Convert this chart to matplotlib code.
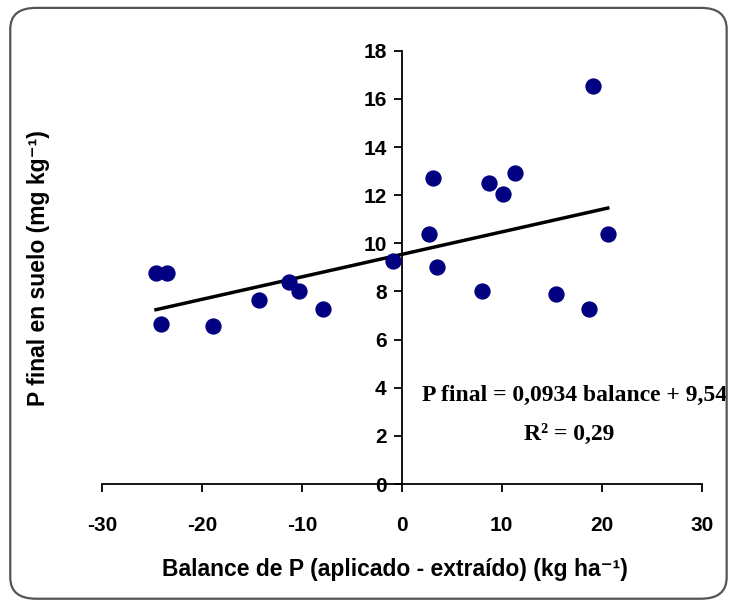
import matplotlib
matplotlib.use('Agg')
import matplotlib.pyplot as plt
from matplotlib.patches import FancyBboxPatch
import numpy as np

# datos
balance = [-24.6, -23.5, -24.1, -18.9, -14.3, -11.3, -10.3, -7.9, -0.9,
           2.7, 3.1, 3.5, 8.0, 8.7, 10.1, 11.3, 15.4, 18.7, 19.1, 20.6]
p_final = [8.75, 8.75, 6.65, 6.55, 7.65, 8.4, 8.0, 7.25, 9.25,
           10.4, 12.7, 9.0, 8.0, 12.5, 12.05, 12.9, 7.9, 7.25, 16.55, 10.4]
pendiente = 0.0934
intercepto = 9.54
x_ticks = [-30, -20, -10, 0, 10, 20, 30]
y_ticks = [0, 2, 4, 6, 8, 10, 12, 14, 16, 18]

plt.rcParams['axes.unicode_minus'] = False
sans = ['Liberation Sans', 'DejaVu Sans']
serif = ['Liberation Serif', 'DejaVu Serif']

fig = plt.figure(figsize=(7.34, 6.06), dpi=100)
ax = fig.add_axes([0.139, 0.2013, 0.817, 0.715])

# marco redondeado
marco = FancyBboxPatch((0.014, 0.012), 0.976, 0.975, boxstyle='round,pad=0,rounding_size=0.035',
                       transform=fig.transFigure, fill=False, edgecolor='#555555', linewidth=1.6)
fig.patches.append(marco)

ax.scatter(balance, p_final, s=115, color='#000080', zorder=3)

# linea de tendencia
xl = np.array([min(balance), max(balance)])
ax.plot(xl, pendiente * xl + intercepto, color='black', linewidth=2.5, zorder=2)

ax.set_xlim(-30, 30)
ax.set_ylim(0, 18)
ax.set_xticks(x_ticks)
ax.set_yticks(y_ticks)

ax.spines['top'].set_visible(False)
ax.spines['right'].set_visible(False)
ax.spines['left'].set_position(('data', 0))
ax.spines['left'].set_linewidth(1.3)
ax.spines['bottom'].set_linewidth(1.3)
ax.tick_params(axis='x', direction='out', length=6, width=1.3, pad=17)
ax.tick_params(axis='y', direction='out', length=6, width=1.3, pad=5)
for lab in ax.get_xticklabels() + ax.get_yticklabels():
    lab.set_family(sans)
    lab.set_fontweight('bold')
    lab.set_fontsize(15)

fig.text(0.053, 0.557, 'P final en suelo (mg kg⁻¹)', rotation=90, ha='center', va='center',
         family=sans, fontweight='bold', fontsize=16.5)
fig.text(0.538, 0.06, 'Balance de P (aplicado - extraído) (kg ha⁻¹)', ha='center', va='center',
         family=sans, fontweight='bold', fontsize=16.5)

ax.text(0.783, 0.348, 'P final = 0,0934 balance + 9,54', transform=fig.transFigure,
        ha='center', va='center', family=serif, fontweight='bold', fontsize=17)
ax.text(0.775, 0.283, 'R² = 0,29', transform=fig.transFigure,
        ha='center', va='center', family=serif, fontweight='bold', fontsize=17)

fig.savefig('out.png', dpi=100)
